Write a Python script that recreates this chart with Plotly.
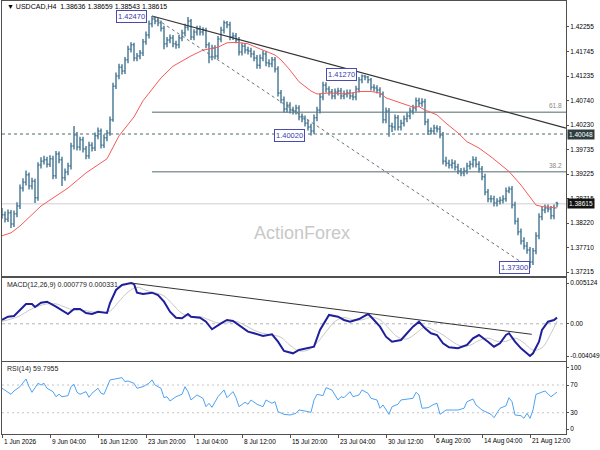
import plotly.graph_objects as go

# USDCAD H4, one entry per chart bar slot (oldest first)
opens = [1.3845, 1.3839, 1.3830, 1.3843, 1.3820, 1.3841, 1.3857, 1.3894, 1.3906, 1.3921,
         1.3898, 1.3908, 1.3874, 1.3941, 1.3949, 1.3952, 1.3943, 1.3954, 1.3919, 1.3964,
         1.3952, 1.3915, 1.3927, 1.3939, 1.3980, 1.4003, 1.3978, 1.3993, 1.3974, 1.3960,
         1.3982, 1.3976, 1.4001, 1.4011, 1.3982, 1.3997, 1.4007, 1.4034, 1.4103, 1.4124,
         1.4142, 1.4134, 1.4157, 1.4179, 1.4188, 1.4161, 1.4165, 1.4171, 1.4194, 1.4208,
         1.4231, 1.4241, 1.4237, 1.4233, 1.4222, 1.4190, 1.4198, 1.4202, 1.4190, 1.4188,
         1.4202, 1.4212, 1.4224, 1.4237, 1.4204, 1.4214, 1.4220, 1.4214, 1.4218, 1.4188,
         1.4163, 1.4181, 1.4165, 1.4200, 1.4218, 1.4233, 1.4229, 1.4204, 1.4206, 1.4198,
         1.4173, 1.4185, 1.4177, 1.4175, 1.4169, 1.4161, 1.4146, 1.4161, 1.4169, 1.4151,
         1.4149, 1.4157, 1.4138, 1.4089, 1.4075, 1.4056, 1.4064, 1.4054, 1.4052, 1.4058,
         1.4040, 1.4036, 1.4027, 1.4019, 1.4011, 1.4038, 1.4054, 1.4081, 1.4105, 1.4097,
         1.4091, 1.4083, 1.4091, 1.4093, 1.4083, 1.4087, 1.4089, 1.4083, 1.4081, 1.4097,
         1.4116, 1.4124, 1.4122, 1.4116, 1.4101, 1.4099, 1.4095, 1.4087, 1.4034, 1.4052,
         1.4021, 1.4019, 1.4038, 1.4019, 1.4027, 1.4036, 1.4042, 1.4052, 1.4058, 1.4073,
         1.4068, 1.4071, 1.4030, 1.4011, 1.4011, 1.4017, 1.4015, 1.4003, 1.3949, 1.3945,
         1.3941, 1.3945, 1.3937, 1.3929, 1.3925, 1.3929, 1.3939, 1.3943, 1.3952, 1.3943,
         1.3933, 1.3917, 1.3886, 1.3872, 1.3872, 1.3863, 1.3867, 1.3869, 1.3872, 1.3888,
         1.3892, 1.3859, 1.3826, 1.3804, 1.3785, 1.3775, 1.3767, 1.3742, 1.3765, 1.3796,
         1.3835, 1.3849, 1.3853, 1.3851, 1.3837, 1.38636]
highs = [1.3853, 1.3846, 1.3850, 1.3849, 1.3848, 1.3865, 1.3901, 1.3914, 1.3930, 1.3926,
         1.3915, 1.3913, 1.3947, 1.3957, 1.3960, 1.3958, 1.3961, 1.3960, 1.3970, 1.3969,
         1.3958, 1.3934, 1.3946, 1.3987, 1.4021, 1.4009, 1.3999, 1.3999, 1.3980, 1.3989,
         1.3988, 1.4008, 1.4018, 1.4016, 1.4004, 1.4013, 1.4041, 1.4110, 1.4131, 1.4149,
         1.4148, 1.4163, 1.4186, 1.4193, 1.4192, 1.4171, 1.4177, 1.4200, 1.4215, 1.4238,
         1.4247, 1.4245, 1.4243, 1.4238, 1.4227, 1.4204, 1.4209, 1.4208, 1.4196, 1.4208,
         1.4219, 1.4231, 1.4245, 1.4241, 1.4220, 1.4227, 1.4227, 1.4224, 1.4223, 1.4193,
         1.4188, 1.4187, 1.4206, 1.4225, 1.4238, 1.4237, 1.4235, 1.4213, 1.4212, 1.4204,
         1.4192, 1.4191, 1.4184, 1.4182, 1.4176, 1.4167, 1.4168, 1.4176, 1.4175, 1.4158,
         1.4163, 1.4163, 1.4144, 1.4095, 1.4082, 1.4071, 1.4070, 1.4061, 1.4065, 1.4064,
         1.4047, 1.4043, 1.4034, 1.4026, 1.4045, 1.4061, 1.4088, 1.4112, 1.4111, 1.4103,
         1.4097, 1.4098, 1.4100, 1.4099, 1.4094, 1.4096, 1.4096, 1.4090, 1.4104, 1.4122,
         1.4127, 1.4126, 1.4124, 1.4120, 1.4107, 1.4105, 1.4101, 1.4092, 1.4059, 1.4058,
         1.4028, 1.4045, 1.4044, 1.4034, 1.4043, 1.4049, 1.4059, 1.4065, 1.4080, 1.4079,
         1.4078, 1.4077, 1.4036, 1.4018, 1.4024, 1.4023, 1.4021, 1.4009, 1.3958, 1.3952,
         1.3953, 1.3951, 1.3944, 1.3935, 1.3936, 1.3946, 1.3950, 1.3959, 1.3958, 1.3949,
         1.3939, 1.3923, 1.3892, 1.3879, 1.3878, 1.3873, 1.3876, 1.3879, 1.3895, 1.3897,
         1.3898, 1.3866, 1.3833, 1.3811, 1.3793, 1.3783, 1.3773, 1.3771, 1.3803, 1.3842,
         1.3856, 1.3860, 1.3860, 1.3857, 1.3860, 1.38659]
lows = [1.3831, 1.3823, 1.3824, 1.3812, 1.3814, 1.3834, 1.3851, 1.3887, 1.3899, 1.3891,
        1.3891, 1.3863, 1.3868, 1.3934, 1.3942, 1.3936, 1.3937, 1.3912, 1.3913, 1.3945,
        1.3898, 1.3909, 1.3920, 1.3932, 1.3973, 1.3971, 1.3971, 1.3967, 1.3953, 1.3954,
        1.3969, 1.3970, 1.3994, 1.3975, 1.3976, 1.3990, 1.4001, 1.4030, 1.4097, 1.4117,
        1.4127, 1.4128, 1.4150, 1.4172, 1.4154, 1.4154, 1.4158, 1.4165, 1.4188, 1.4201,
        1.4224, 1.4230, 1.4226, 1.4215, 1.4179, 1.4183, 1.4191, 1.4183, 1.4180, 1.4181,
        1.4195, 1.4205, 1.4217, 1.4198, 1.4197, 1.4207, 1.4207, 1.4207, 1.4181, 1.4150,
        1.4156, 1.4158, 1.4158, 1.4193, 1.4211, 1.4222, 1.4197, 1.4198, 1.4191, 1.4166,
        1.4166, 1.4170, 1.4168, 1.4162, 1.4154, 1.4139, 1.4139, 1.4154, 1.4144, 1.4142,
        1.4142, 1.4131, 1.4082, 1.4068, 1.4049, 1.4049, 1.4047, 1.4045, 1.4045, 1.4033,
        1.4029, 1.4020, 1.4012, 1.4002, 1.4005, 1.4031, 1.4047, 1.4074, 1.4090, 1.4084,
        1.4076, 1.4076, 1.4084, 1.4076, 1.4076, 1.4080, 1.4076, 1.4074, 1.4074, 1.4090,
        1.4109, 1.4115, 1.4109, 1.4094, 1.4092, 1.4088, 1.4080, 1.4027, 1.4027, 1.3999,
        1.4009, 1.4012, 1.4012, 1.4012, 1.4020, 1.4029, 1.4035, 1.4045, 1.4051, 1.4061,
        1.4061, 1.4023, 1.4003, 1.4004, 1.4004, 1.4008, 1.3996, 1.3942, 1.3938, 1.3934,
        1.3934, 1.3930, 1.3922, 1.3918, 1.3918, 1.3922, 1.3932, 1.3936, 1.3936, 1.3926,
        1.3910, 1.3879, 1.3865, 1.3864, 1.3856, 1.3856, 1.3860, 1.3862, 1.3866, 1.3883,
        1.3852, 1.3819, 1.3797, 1.3778, 1.3768, 1.3759, 1.3730, 1.3736, 1.3758, 1.3789,
        1.3828, 1.3842, 1.3844, 1.3830, 1.3830, 1.38543]
closes = [1.3839, 1.3830, 1.3843, 1.3820, 1.3841, 1.3857, 1.3894, 1.3906, 1.3921, 1.3898,
          1.3908, 1.3874, 1.3941, 1.3949, 1.3952, 1.3943, 1.3954, 1.3919, 1.3964, 1.3952,
          1.3915, 1.3927, 1.3939, 1.3980, 1.4003, 1.3978, 1.3993, 1.3974, 1.3960, 1.3982,
          1.3976, 1.4001, 1.4011, 1.3982, 1.3997, 1.4007, 1.4034, 1.4103, 1.4124, 1.4142,
          1.4134, 1.4157, 1.4179, 1.4188, 1.4161, 1.4165, 1.4171, 1.4194, 1.4208, 1.4231,
          1.4241, 1.4237, 1.4233, 1.4222, 1.4190, 1.4198, 1.4202, 1.4190, 1.4188, 1.4202,
          1.4212, 1.4224, 1.4237, 1.4204, 1.4214, 1.4220, 1.4214, 1.4218, 1.4188, 1.4163,
          1.4181, 1.4165, 1.4200, 1.4218, 1.4233, 1.4229, 1.4204, 1.4206, 1.4198, 1.4173,
          1.4185, 1.4177, 1.4175, 1.4169, 1.4161, 1.4146, 1.4161, 1.4169, 1.4151, 1.4149,
          1.4157, 1.4138, 1.4089, 1.4075, 1.4056, 1.4064, 1.4054, 1.4052, 1.4058, 1.4040,
          1.4036, 1.4027, 1.4019, 1.4011, 1.4038, 1.4054, 1.4081, 1.4105, 1.4097, 1.4091,
          1.4083, 1.4091, 1.4093, 1.4083, 1.4087, 1.4089, 1.4083, 1.4081, 1.4097, 1.4116,
          1.4124, 1.4122, 1.4116, 1.4101, 1.4099, 1.4095, 1.4087, 1.4034, 1.4052, 1.4021,
          1.4019, 1.4038, 1.4019, 1.4027, 1.4036, 1.4042, 1.4052, 1.4058, 1.4073, 1.4068,
          1.4071, 1.4030, 1.4011, 1.4011, 1.4017, 1.4015, 1.4003, 1.3949, 1.3945, 1.3941,
          1.3945, 1.3937, 1.3929, 1.3925, 1.3929, 1.3939, 1.3943, 1.3952, 1.3943, 1.3933,
          1.3917, 1.3886, 1.3872, 1.3872, 1.3863, 1.3867, 1.3869, 1.3872, 1.3888, 1.3892,
          1.3859, 1.3826, 1.3804, 1.3785, 1.3775, 1.3767, 1.3742, 1.3765, 1.3796, 1.3835,
          1.3849, 1.3853, 1.3851, 1.3837, 1.3853, 1.38615]

# moving average (red)
ma_bars = [0, 3, 6, 13, 22, 28, 35, 39, 44, 47, 53, 57, 63, 67, 72, 75, 78, 82, 85, 88,
           91, 93, 96, 99, 103, 105, 109, 115, 119, 123, 126, 128, 133, 137, 139, 141, 145,
           148, 152, 155, 159, 163, 167, 169, 173, 176, 178, 180, 184, 185]
ma_vals = [1.3796, 1.3802, 1.3816, 1.3857, 1.3894, 1.3925, 1.3954, 1.4001, 1.4040, 1.4073,
           1.4120, 1.4144, 1.4165, 1.4177, 1.4183, 1.4192, 1.4193, 1.4190, 1.4182, 1.4175,
           1.4167, 1.4157, 1.4136, 1.4112, 1.4093, 1.4087, 1.4089, 1.4087, 1.4092, 1.4092,
           1.4089, 1.4079, 1.4068, 1.4060, 1.4061, 1.4054, 1.4044, 1.4027, 1.4007, 1.3989,
           1.3976, 1.3958, 1.3938, 1.3928, 1.3900, 1.3876, 1.3859, 1.3856, 1.3853, 1.3853]

# MACD(12,26,9)
macd_bars = [0, 2, 4, 6, 8, 10, 11, 13, 15, 18, 20, 22, 24, 26, 28, 30, 32, 35, 36, 38,
             40, 43, 44, 45, 47, 50, 52, 54, 56, 58, 60, 62, 63, 66, 68, 70, 73, 75, 77, 79,
             82, 84, 87, 90, 92, 94, 97, 99, 104, 106, 108, 109, 112, 114, 116, 118, 119, 122,
             123, 126, 128, 130, 133, 135, 137, 139, 141, 143, 145, 147, 149, 152, 155, 157,
             159, 162, 164, 166, 168, 169, 171, 173, 176, 177, 179, 180, 182, 184, 185]
macd_vals = [0.00048, 0.00089, 0.00098, 0.00173, 0.00249, 0.00249, 0.00211, 0.00265, 0.00278, 0.00215,
             0.00173, 0.00123, 0.00186, 0.00186, 0.00136, 0.00123, 0.00152, 0.00136, 0.00261, 0.00425,
             0.00488, 0.00512, 0.00500, 0.00391, 0.00375, 0.00391, 0.00362, 0.00278, 0.00152, 0.00077,
             0.00069, 0.00123, 0.00089, 0.00077, 0.00026, -0.00069, 0.00006, 0.00048, 0.00035, -0.00015,
             -0.00099, -0.00119, -0.00153, -0.00132, -0.00225, -0.00342, -0.00371, -0.00329, -0.00288, -0.00078,
             0.00048, 0.00111, 0.00089, 0.00048, 0.00026, 0.00048, 0.00060, 0.00123, 0.00089, -0.00036,
             -0.00162, -0.00225, -0.00204, -0.00119, -0.00036, 0.00026, -0.00057, -0.00119, -0.00141, -0.00245,
             -0.00295, -0.00308, -0.00266, -0.00182, -0.00141, -0.00225, -0.00288, -0.00245, -0.00141, -0.00119,
             -0.00225, -0.00308, -0.00405, -0.00371, -0.00225, -0.00078, 0.00026, 0.00048, 0.000779]
signal_bars = [0, 3, 6, 9, 12, 15, 18, 21, 24, 27, 30, 33, 36, 39, 42, 45, 48, 51, 54, 57,
               60, 63, 66, 69, 72, 75, 78, 81, 84, 87, 90, 93, 96, 99, 102, 105, 108, 111, 114,
               117, 120, 123, 126, 129, 132, 135, 138, 141, 144, 147, 150, 153, 156, 159, 162,
               165, 168, 171, 174, 177, 180, 183, 185]
signal_vals = [0.0003, 0.0006, 0.0010, 0.0017, 0.0022, 0.0025, 0.0025, 0.0021, 0.0017, 0.0017,
               0.0015, 0.0014, 0.0016, 0.0028, 0.0040, 0.0046, 0.0042, 0.0039, 0.0035, 0.0024,
               0.0013, 0.0009, 0.0009, 0.0005, 0.0001, 0.0001, 0.0003, -0.0002, -0.0008, -0.0012,
               -0.0014, -0.0017, -0.0027, -0.0034, -0.0033, -0.0024, -0.0010, 0.0003, 0.0008,
               0.0005, 0.0005, 0.0008, 0.0005, -0.0006, -0.0017, -0.0019, -0.0012, -0.0004, -0.0008,
               -0.0014, -0.0022, -0.0028, -0.0027, -0.0021, -0.0018, -0.0022, -0.0022, -0.0018,
               -0.0024, -0.0033, -0.0030, -0.0012, 0.000331]

# RSI(14)
rsi_bars = [0, 1, 3, 4, 6, 8, 9, 10, 12, 13, 14, 15, 17, 18, 19, 20, 22, 23, 24, 25,
            26, 28, 29, 30, 32, 33, 34, 36, 38, 40, 41, 42, 44, 45, 47, 49, 50, 51, 52, 53,
            54, 55, 56, 58, 60, 61, 62, 63, 65, 67, 68, 69, 70, 72, 74, 75, 77, 78, 79, 81,
            82, 83, 85, 87, 88, 90, 91, 92, 94, 96, 98, 99, 101, 103, 104, 105, 107, 108, 110,
            112, 113, 114, 116, 117, 119, 120, 122, 123, 125, 126, 127, 129, 130, 132, 133, 135,
            137, 138, 139, 140, 142, 144, 145, 146, 148, 150, 152, 154, 155, 157, 158, 160, 163,
            164, 166, 168, 169, 170, 171, 173, 174, 175, 176, 177, 178, 179, 181, 183, 184, 185]
rsi_vals = [65.3, 62.8, 56.6, 61.4, 67.6, 78.7, 67.6, 59.5, 72.5, 70.0, 72.5, 65.3, 60.4, 53.1, 56.6,
            53.1, 54.6, 67.6, 71.0, 59.5, 56.6, 60.4, 52.3, 58.1, 65.3, 58.1, 56.6, 77.3, 78.7, 80.6,
            74.8, 75.8, 72.5, 65.3, 67.6, 72.5, 77.3, 70.0, 67.6, 65.3, 51.7, 53.1, 46.9, 53.1, 56.6,
            67.6, 60.4, 48.4, 55.6, 50.8, 38.7, 43.6, 37.8, 53.1, 62.8, 51.7, 60.4, 51.7, 38.7, 45.1,
            42.2, 48.4, 42.2, 38.7, 48.4, 43.6, 45.9, 31.5, 27.7, 26.7, 29.2, 34.0, 32.5, 30.6, 48.4,
            56.6, 54.6, 66.1, 62.8, 48.4, 53.1, 51.7, 60.4, 53.1, 55.6, 62.8, 58.1, 50.8, 48.4, 36.4,
            41.2, 27.7, 38.7, 42.2, 48.4, 49.8, 50.8, 59.5, 55.6, 36.4, 37.3, 42.2, 43.6, 27.7, 33.9,
            33.9, 33.9, 36.4, 45.9, 49.8, 41.2, 33.9, 27.7, 22.8, 36.4, 40.1, 51.7, 45.9, 26.7, 25.7,
            21.9, 29.2, 21.9, 33.9, 56.6, 58.1, 61.4, 53.1, 56.6, 59.7955]

# drawn objects: (bar, price) anchors
swing_high = (50, 1.4247)
swing_low = (176, 1.3730)
trend_bars = [50, 188]
trend_prices = [1.4247, 1.4017]
macd_trend_bars = [43, 176.6]
macd_trend_vals = [0.00512, -0.00132]
fib_levels = [(61.8, 1.40495), (38.2, 1.39275)]
support_level = 1.40048
last_price = 1.38615
pivots = [(48.3, 1.42470), (118.3, 1.41270), (101, 1.40020), (176, 1.37300)]

price_ticks = [1.42255, 1.41745, 1.41235, 1.40740, 1.40230, 1.39735, 1.39225, 1.38715, 1.38220, 1.37710, 1.37215]
x_tick_bars = [0, 16, 32, 48, 64, 80, 96, 112, 128, 144, 160, 176]
x_tick_labels = ['1 Jun 2026', '9 Jun 04:00', '16 Jun 12:00', '23 Jun 20:00', '1 Jul 04:00', '8 Jul 12:00',
                 '15 Jul 20:00', '23 Jul 04:00', '30 Jul 12:00', '6 Aug 20:00', '14 Aug 04:00', '21 Aug 12:00']

FONT = 'Liberation Sans, Arial, sans-serif'
bar_color = '#4f7d98'
frame = '#505050'

fig = go.Figure()
fig.add_trace(go.Ohlc(x=list(range(len(closes))), open=opens, high=highs, low=lows, close=closes,
                      increasing=dict(line=dict(color=bar_color, width=1.5)),
                      decreasing=dict(line=dict(color=bar_color, width=1.5)),
                      tickwidth=0.45, hoverinfo='skip', showlegend=False, xaxis='x', yaxis='y'))
fig.add_trace(go.Scatter(x=ma_bars, y=ma_vals, mode='lines', line=dict(color='#f65a5a', width=1),
                         hoverinfo='skip', showlegend=False, xaxis='x', yaxis='y'))
fig.add_trace(go.Scatter(x=signal_bars, y=signal_vals, mode='lines', line=dict(color='#c8c8c8', width=1, shape='spline'),
                         hoverinfo='skip', showlegend=False, xaxis='x2', yaxis='y2'))
fig.add_trace(go.Scatter(x=macd_bars, y=macd_vals, mode='lines', line=dict(color='#1f1f9c', width=2),
                         hoverinfo='skip', showlegend=False, xaxis='x2', yaxis='y2'))
fig.add_trace(go.Scatter(x=rsi_bars, y=rsi_vals, mode='lines', line=dict(color='#4da3f5', width=1),
                         hoverinfo='skip', showlegend=False, xaxis='x3', yaxis='y3'))

shapes = []
# horizontal levels
shapes.append(dict(type='line', xref='x domain', x0=0, x1=1, yref='y', y0=last_price, y1=last_price,
                   line=dict(color='#cfcfcf', width=1), layer='below'))
shapes.append(dict(type='line', xref='x domain', x0=0, x1=1, yref='y', y0=support_level, y1=support_level,
                   line=dict(color='#4f6868', width=1, dash='3px,3px'), layer='below'))
for lvl, price in fib_levels:
    shapes.append(dict(type='line', xref='x', x0=swing_high[0], x1=188, yref='y', y0=price, y1=price,
                       line=dict(color='#8a9c9c', width=1.5), layer='below'))
shapes.append(dict(type='line', xref='x', x0=trend_bars[0], x1=trend_bars[1], yref='y',
                   y0=trend_prices[0], y1=trend_prices[1], line=dict(color='#333333', width=1.2)))
shapes.append(dict(type='line', xref='x', x0=swing_high[0], x1=swing_low[0], yref='y',
                   y0=swing_high[1], y1=swing_low[1], line=dict(color='#707070', width=1, dash='3px,3px')))
shapes.append(dict(type='line', xref='x2', x0=macd_trend_bars[0], x1=macd_trend_bars[1], yref='y2',
                   y0=macd_trend_vals[0], y1=macd_trend_vals[1], line=dict(color='#333333', width=1)))
shapes.append(dict(type='line', xref='x2 domain', x0=0, x1=1, yref='y2', y0=0, y1=0,
                   line=dict(color='#b4b4b4', width=1, dash='3px,3px'), layer='below'))
for lvl in [70, 30]:
    shapes.append(dict(type='line', xref='x3 domain', x0=0, x1=1, yref='y3', y0=lvl, y1=lvl,
                       line=dict(color='#c4c4c4', width=1, dash='2px,3px'), layer='below'))

ann = []
ann.append(dict(text='ActionForex', x=100, y=1.3802, xref='x', yref='y', showarrow=False,
                font=dict(family=FONT, size=18, color='#c8c8c8')))
ann.append(dict(text='\u25bc USDCAD,H4  1.38636 1.38659 1.38543 1.38615', x=0.005, y=0.987,
                xref='paper', yref='paper', xanchor='left', yanchor='middle', showarrow=False,
                font=dict(family=FONT, size=7, color='black')))
ann.append(dict(text='MACD(12,26,9) 0.000779 0.000331', x=0.006, y=0.344, xref='paper', yref='paper',
                xanchor='left', yanchor='middle', showarrow=False, font=dict(family=FONT, size=7, color='#222')))
ann.append(dict(text='RSI(14) 59.7955', x=0.006, y=0.149, xref='paper', yref='paper',
                xanchor='left', yanchor='middle', showarrow=False, font=dict(family=FONT, size=7, color='#222')))
for b, p in pivots:
    ann.append(dict(text=f'{p:.5f}', x=b, y=p, xref='x', yref='y', xanchor='right', yanchor='middle',
                    showarrow=False, bgcolor='white', bordercolor='#4a4ab0', borderwidth=1, borderpad=1,
                    font=dict(family=FONT, size=7.5, color='#3a3aa8')))
for lvl, price in fib_levels:
    ann.append(dict(text=f'{lvl}', x=1, y=price, xref='paper', yref='y', xanchor='right', yanchor='bottom',
                    xshift=-2, yshift=1, showarrow=False, font=dict(family=FONT, size=6.5, color='#888')))
for price, bg in [(support_level, '#2e3e3e'), (last_price, '#111111')]:
    ann.append(dict(text=f'{price:.5f}', x=1, y=price, xref='paper', yref='y', xanchor='left', yanchor='middle',
                    xshift=1, showarrow=False, bgcolor=bg, borderpad=1,
                    font=dict(family=FONT, size=6.5, color='white')))
for b, lab in zip(x_tick_bars, x_tick_labels):
    ann.append(dict(text=lab, x=b, y=-0.017, xref='x3', yref='paper', xanchor='left', yanchor='middle',
                    showarrow=False, font=dict(family=FONT, size=6.5, color='black')))

xcommon = dict(range=[0, 188], showgrid=False, zeroline=False, showline=True, mirror=True,
               linecolor=frame, showticklabels=False, rangeslider=dict(visible=False))
ycommon = dict(side='right', showgrid=False, zeroline=False, showline=True, mirror=True, linecolor=frame,
               ticks='outside', ticklen=2, tickcolor=frame, tickfont=dict(family=FONT, size=6.5, color='black'))

fig.update_layout(
    width=600, height=450,
    margin=dict(l=2, r=34, t=1, b=16),
    paper_bgcolor='white', plot_bgcolor='white',
    showlegend=False,
    shapes=shapes, annotations=ann,
    xaxis=dict(xcommon, anchor='y', ticks=''),
    xaxis2=dict(xcommon, anchor='y2', matches='x', ticks=''),
    xaxis3=dict(xcommon, anchor='y3', matches='x', ticks='outside', ticklen=3, tickcolor=frame,
                tickvals=x_tick_bars),
    yaxis=dict(ycommon, domain=[0.3649, 1], range=[1.37134, 1.42778], tickvals=price_ticks,
               ticktext=[f'{t:.5f}' for t in price_ticks]),
    yaxis2=dict(ycommon, domain=[0.1686, 0.3603], range=[-0.004676, 0.005757],
                tickvals=[0.005124, 0, -0.004049], ticktext=['0.005124', '0.00', '-0.004049']),
    yaxis3=dict(ycommon, domain=[0, 0.1663], range=[-0.7, 103.2],
                tickvals=[95, 70, 30, 6.5], ticktext=['100', '70', '30', '0']),
)

# the page's default body margin would push the 600x450 figure off the window
fig.write_html("out.html", config={'displayModeBar': False},
               post_script="document.body.style.margin='0';")
